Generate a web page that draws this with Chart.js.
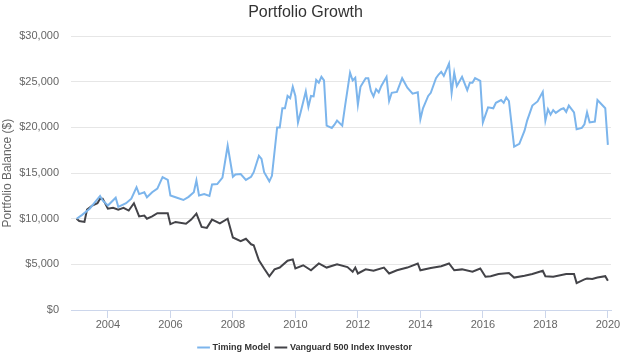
<!DOCTYPE html>
<html>
<head>
<meta charset="utf-8">
<script src="https://cdn.jsdelivr.net/npm/chart.js@4/dist/chart.umd.min.js"></script>
<style>
  body { margin: 0; background: #fff; }
  #wrap { width: 624px; height: 362px; }
</style>
</head>
<body>
<div id="wrap"><canvas id="chart" width="624" height="362"></canvas></div>
<script>
// monthly snapshots
const timingDates = [
  '2003-01','2003-03','2003-06','2003-08','2003-10','2003-11','2004-01','2004-04','2004-05','2004-08',
  '2004-10','2004-12','2005-01','2005-03','2005-04','2005-06','2005-08','2005-10','2005-12','2006-01',
  '2006-03','2006-06','2006-08','2006-10','2006-11','2006-12','2007-02','2007-04','2007-05','2007-07',
  '2007-09','2007-11','2008-01','2008-02','2008-04','2008-06','2008-08','2008-09','2008-11','2008-12',
  '2009-01','2009-03','2009-04','2009-06','2009-07','2009-08','2009-09','2009-10','2009-11','2009-12',
  '2010-01','2010-02','2010-03','2010-05','2010-06','2010-07','2010-08','2010-09','2010-10','2010-11',
  '2010-12','2011-01','2011-03','2011-04','2011-05','2011-07','2011-08','2011-10','2011-11','2011-12',
  '2012-01','2012-02','2012-04','2012-05','2012-06','2012-07','2012-08','2012-09','2012-10','2012-12',
  '2013-01','2013-02','2013-04','2013-06','2013-08','2013-10','2013-12','2014-01','2014-02','2014-04',
  '2014-05','2014-07','2014-08','2014-09','2014-10','2014-12','2015-01','2015-02','2015-03','2015-05',
  '2015-07','2015-08','2015-09','2015-10','2015-12','2016-01','2016-03','2016-05','2016-06','2016-08',
  '2016-09','2016-10','2016-11','2017-01','2017-03','2017-05','2017-06','2017-08','2017-10','2017-12',
  '2018-01','2018-02','2018-03','2018-04','2018-05','2018-07','2018-08','2018-09','2018-10','2018-12',
  '2019-01','2019-03','2019-04','2019-05','2019-06','2019-08','2019-09','2019-11','2019-12','2020-01'
];
const timingValues = [
  10000,10400,11100,11800,12500,12000,11450,12300,11300,11700,
  12200,13450,12700,12900,12350,12900,13300,14550,14250,12550,
  12350,12050,12400,12900,14200,12550,12700,12500,13750,13800,
  14500,18000,14600,14850,14900,14250,14600,15100,16900,16550,
  15100,14100,14700,20000,20000,22100,22100,23450,23200,24450,
  23450,20550,21650,23950,22250,23450,23400,25200,24900,25550,
  25150,20200,19950,20300,20750,20200,22200,26000,25150,25450,
  22500,24450,25400,25400,24000,23400,24200,23850,24550,25550,
  22900,23800,23900,25400,24350,23700,23850,20900,22100,23450,
  23800,25400,25800,26100,25650,27000,23800,26000,24550,25550,
  24100,24900,24900,25400,25100,20550,22200,22100,22700,23000,
  22700,23300,22900,17900,18200,19650,20750,22400,22850,23900,
  20750,22000,21400,21900,21600,22000,22100,21700,22400,21650,
  19800,19950,20350,21650,20550,20650,23000,22400,22100,18100
];

const vanguardDates = [
  '2003-01','2003-02','2003-04','2003-05','2003-07','2003-09','2003-10','2003-11','2004-01','2004-03',
  '2004-05','2004-07','2004-09','2004-11','2005-01','2005-03','2005-04','2005-06','2005-08','2005-12',
  '2006-01','2006-03','2006-07','2006-09','2006-11','2007-01','2007-03','2007-05','2007-08','2007-11',
  '2008-01','2008-04','2008-06','2008-08','2008-09','2008-11','2009-01','2009-03','2009-05','2009-07',
  '2009-10','2009-12','2010-01','2010-04','2010-07','2010-10','2011-01','2011-05','2011-09','2011-11',
  '2011-12','2012-01','2012-04','2012-07','2012-11','2013-01','2013-04','2013-08','2013-12','2014-01',
  '2014-05','2014-09','2014-12','2015-02','2015-05','2015-09','2015-12','2016-02','2016-04','2016-07',
  '2016-11','2017-01','2017-05','2017-08','2017-12','2018-01','2018-04','2018-09','2018-12','2019-01',
  '2019-04','2019-05','2019-07','2019-09','2019-12','2020-01'
];
const vanguardValues = [
  10000,9750,9650,11000,11450,11700,12200,12200,11100,11200,
  11000,11200,10900,11700,10250,10350,10000,10250,10600,10600,
  9400,9650,9450,9900,10550,9100,9000,9900,9500,10000,
  7950,7550,7800,7200,7100,5450,4550,3700,4450,4650,
  5400,5550,4550,4900,4350,5100,4650,5000,4700,4200,
  4650,4000,4450,4300,4650,4000,4350,4650,5100,4350,
  4600,4800,5100,4350,4450,4200,4550,3650,3700,3950,
  4050,3550,3750,3950,4300,3700,3650,3950,3950,2950,
  3350,3450,3400,3550,3700,3200
];

const yearTicks = { min: 2002.82, max: 2020.1, step: 2 };
const balanceTicks = { min: 0, max: 30000, step: 5000 };

function toYear(s) {
  const p = s.split('-');
  return Number(p[0]) + (Number(p[1]) - 1) / 12;
}
function points(dates, values) {
  return dates.map((d, i) => ({ x: toYear(d), y: values[i] }));
}

const font = "'Liberation Sans', Arial, sans-serif";

new Chart(document.getElementById('chart'), {
  type: 'line',
  data: {
    datasets: [
      {
        label: 'Timing Model',
        data: points(timingDates, timingValues),
        borderColor: '#7cb5ec',
        backgroundColor: '#7cb5ec',
        borderWidth: 2,
        pointRadius: 0,
        tension: 0
      },
      {
        label: 'Vanguard 500 Index Investor',
        data: points(vanguardDates, vanguardValues),
        borderColor: '#434348',
        backgroundColor: '#434348',
        borderWidth: 2,
        pointRadius: 0,
        tension: 0
      }
    ]
  },
  options: {
    responsive: false,
    animation: false,
    layout: { padding: { left: 0, right: 13, top: 0, bottom: 0 } },
    plugins: {
      title: {
        display: true,
        text: 'Portfolio Growth',
        color: '#333333',
        font: { family: font, size: 16, weight: 'normal' },
        padding: { top: 3, bottom: 14 }
      },
      legend: {
        position: 'bottom',
        labels: {
          usePointStyle: true,
          pointStyle: 'line',
          boxWidth: 12,
          color: '#333333',
          padding: 6,
          font: { family: font, size: 9, weight: 'bold' }
        }
      },
      tooltip: { enabled: false }
    },
    scales: {
      x: {
        type: 'linear',
        min: yearTicks.min,
        max: yearTicks.max,
        border: { color: '#ccd6eb' },
        grid: { drawOnChartArea: false, drawTicks: true, tickLength: 8, color: '#ccd6eb' },
        ticks: {
          stepSize: yearTicks.step,
          includeBounds: false,
          color: '#666666',
          font: { family: font, size: 11 },
          maxRotation: 0,
          padding: 0,
          callback: v => String(Math.round(v))
        },
        afterFit: s => { s.height = 27; }
      },
      y: {
        min: balanceTicks.min,
        max: balanceTicks.max,
        border: { display: false },
        grid: {
          drawTicks: false,
          color: c => (c.tick && c.tick.value === 0) ? '#ccd6eb' : '#e6e6e6'
        },
        ticks: {
          stepSize: balanceTicks.step,
          color: '#666666',
          padding: 12,
          font: { family: font, size: 11 },
          callback: v => '$' + v.toLocaleString('en-US')
        },
        title: {
          display: true,
          text: 'Portfolio Balance ($)',
          color: '#666666',
          font: { family: font, size: 12 },
          padding: { top: 0, bottom: 2 }
        },
        afterFit: s => { s.width = 71; }
      }
    }
  }
});
</script>
</body>
</html>
